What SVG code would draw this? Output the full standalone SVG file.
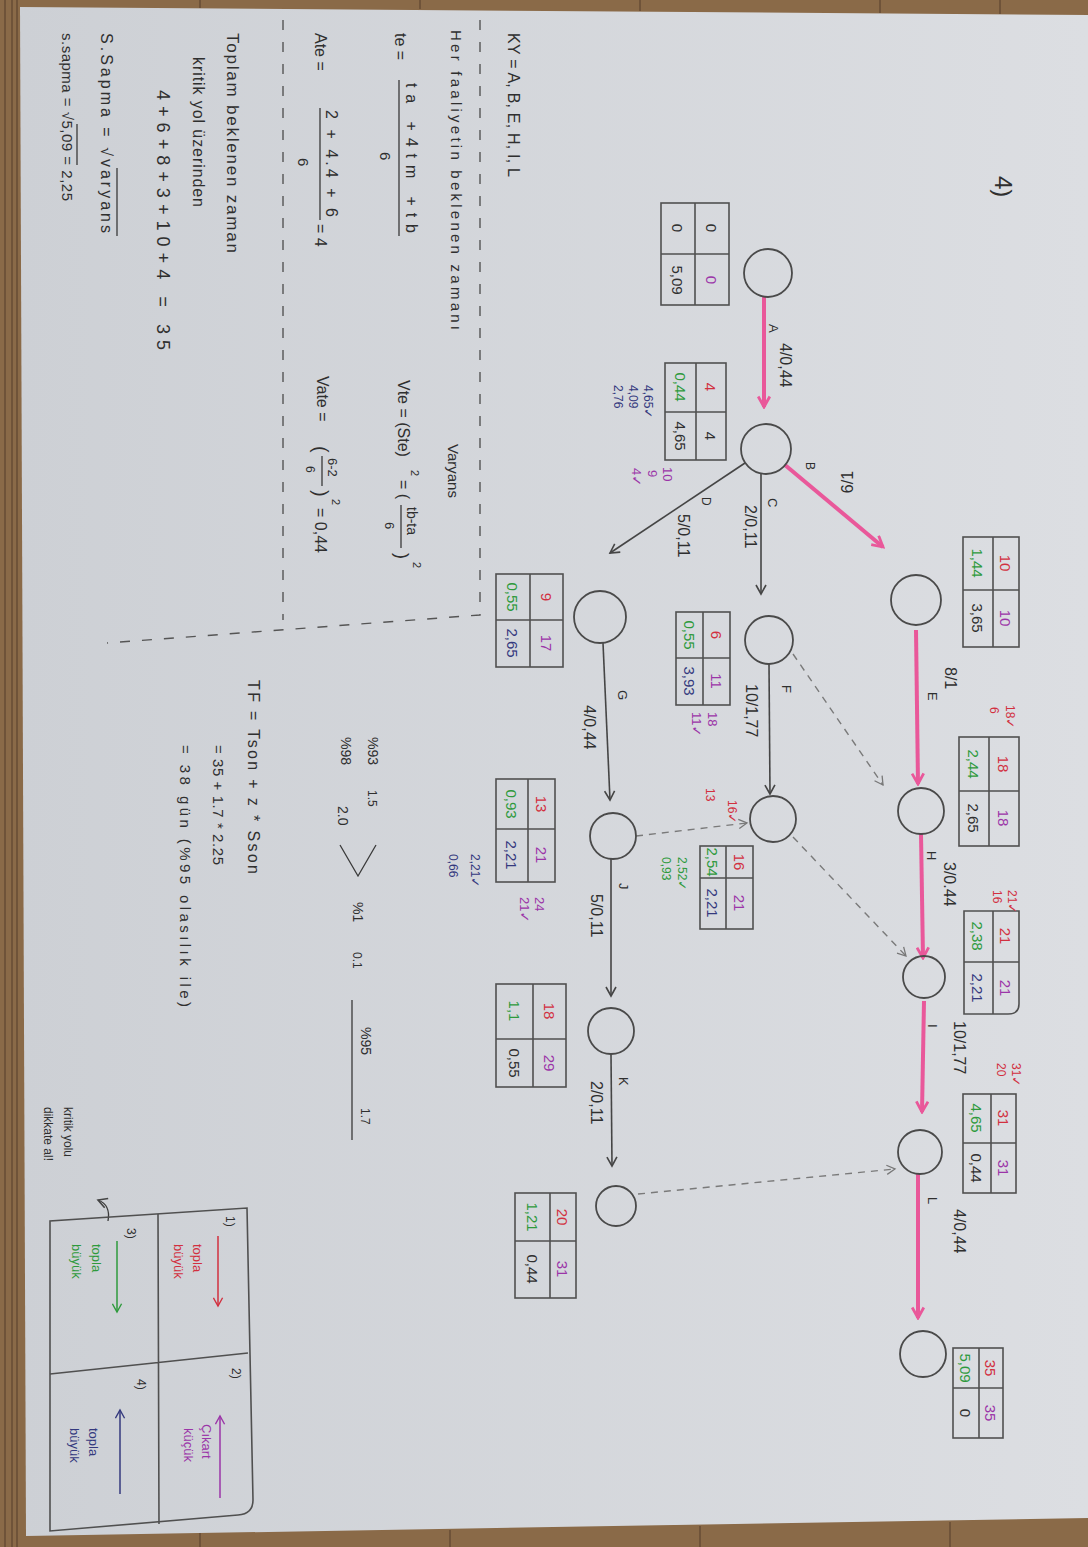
<svg xmlns="http://www.w3.org/2000/svg" width="1088" height="1547" viewBox="0 0 1088 1547">
<defs>
<linearGradient id="pg" x1="0" y1="0" x2="1" y2="0">
<stop offset="0" stop-color="#cdd0d5"/><stop offset="1" stop-color="#dcdee2"/>
</linearGradient>
<marker id="mp" viewBox="0 0 12 12" markerWidth="14" markerHeight="14" refX="10" refY="6" orient="auto" markerUnits="userSpaceOnUse"><path d="M1,1 L10,6 L1,11" fill="none" stroke="#e9589a" stroke-width="2.4"/></marker>
<marker id="mk" viewBox="0 0 12 12" markerWidth="12" markerHeight="12" refX="10" refY="6" orient="auto" markerUnits="userSpaceOnUse"><path d="M1,1 L10,6 L1,11" fill="none" stroke="#454545" stroke-width="1.6"/></marker>
<marker id="md" viewBox="0 0 12 12" markerWidth="11" markerHeight="11" refX="10" refY="6" orient="auto" markerUnits="userSpaceOnUse"><path d="M1,1 L10,6 L1,11" fill="none" stroke="#777" stroke-width="1.4"/></marker>
<marker id="mr" viewBox="0 0 12 12" markerWidth="11" markerHeight="11" refX="10" refY="6" orient="auto" markerUnits="userSpaceOnUse"><path d="M1,1 L10,6 L1,11" fill="none" stroke="#d2303f" stroke-width="1.5"/></marker>
<marker id="mu" viewBox="0 0 12 12" markerWidth="11" markerHeight="11" refX="10" refY="6" orient="auto" markerUnits="userSpaceOnUse"><path d="M1,1 L10,6 L1,11" fill="none" stroke="#9b35a8" stroke-width="1.5"/></marker>
<marker id="mg" viewBox="0 0 12 12" markerWidth="11" markerHeight="11" refX="10" refY="6" orient="auto" markerUnits="userSpaceOnUse"><path d="M1,1 L10,6 L1,11" fill="none" stroke="#2e9a3c" stroke-width="1.5"/></marker>
<marker id="mb" viewBox="0 0 12 12" markerWidth="11" markerHeight="11" refX="10" refY="6" orient="auto" markerUnits="userSpaceOnUse"><path d="M1,1 L10,6 L1,11" fill="none" stroke="#34397e" stroke-width="1.5"/></marker>
<style>
.t{font-family:"Liberation Sans","DejaVu Sans",sans-serif;fill:#2f2f2f}
.c{text-anchor:middle}
.v{font-size:15px}
.l{font-size:16px}
.s{font-size:12px}
.red{fill:#d2303f}
.pur{fill:#9b35a8}
.grn{fill:#2e9a3c}
.blu{fill:#34397e}
.node{fill:none;stroke:#4a4a4a;stroke-width:1.8}
.box{fill:none;stroke:#505050;stroke-width:1.6}
.crit{stroke:#e9589a;stroke-width:4;fill:none;marker-end:url(#mp)}
.norm{stroke:#454545;stroke-width:1.6;fill:none;marker-end:url(#mk)}
.dum{stroke:#7a7a7a;stroke-width:1.4;stroke-dasharray:7 6;fill:none;marker-end:url(#md)}
.sep{stroke:#555;stroke-width:1.4;stroke-dasharray:10 12;fill:none}
.ln{stroke:#3a3a3a;stroke-width:1.3;fill:none}
</style>
</defs>

<rect width="1088" height="1547" fill="#8a6a48"/>
<g stroke="#5e4430" stroke-width="2" opacity="0.6">
<path d="M5,0V1547M12,0V1547M17,0V1547"/>
<path d="M200,0V8M420,0V9M640,0V11M880,0V13M1000,0V14"/>
<path d="M200,1532V1547M450,1530V1547M700,1526V1547M950,1522V1547"/>
</g>
<polygon points="20,7 1088,15 1088,1518 26,1536" fill="url(#pg)"/>

<g id="page" transform="translate(1088,0) rotate(90)">

<g id="connectors">
<path id="eA" class="crit" d="M297,324 L407,324"/>
<path id="eB" class="crit" d="M465,303 L547,205"/>
<path id="eC" class="norm" d="M473,327 L594,327"/>
<path id="eD" class="norm" d="M463,343 L553,478"/>
<path id="eE" class="crit" d="M630,172 L784,170"/>
<path id="eF" class="norm" d="M664,319 L794,318"/>
<path id="eG" class="norm" d="M643,485 L800,478"/>
<path id="eH" class="crit" d="M834,167 L958,165"/>
<path id="eI" class="crit" d="M1001,164 L1112,166"/>
<path id="eJ" class="norm" d="M859,477 L996,477"/>
<path id="eK" class="norm" d="M1054,477 L1166,476"/>
<path id="eL" class="crit" d="M1174,170 L1318,170"/>
<path id="d1" class="dum" d="M654,295 L785,205"/>
<path id="d2" class="dum" d="M837,295 L956,182"/>
<path id="d3" class="dum" d="M836,452 L823,341"/>
<path id="d4" class="dum" d="M1194,450 L1169,193"/>
</g>

<g id="edge-labels" class="t l">
<text x="324" y="319" style="font-size:13px">A</text>
<text x="343" y="308">4/0,44</text>
<text x="462" y="282" class="s">B</text>
<text x="482" y="240" class="c" transform="rotate(180 482 240)" dy="5">6/1</text>
<text x="498" y="320" style="font-size:13px">C</text>
<text x="505" y="343">2/0,11</text>
<text x="497" y="386" class="s">D</text>
<text x="514" y="410">5/0,11</text>
<text x="692" y="160" style="font-size:13px">E</text>
<text x="667" y="143">8/1</text>
<text x="685" y="306" style="font-size:13px">F</text>
<text x="684" y="342">10/1,77</text>
<text x="690" y="470" style="font-size:13px">G</text>
<text x="705" y="504">4/0,44</text>
<text x="851" y="161" style="font-size:13px">H</text>
<text x="862" y="144">3/0.44</text>
<text x="883" y="469" style="font-size:13px">J</text>
<text x="894" y="497">5/0,11</text>
<text x="1024" y="160" style="font-size:13px">I</text>
<text x="1021" y="134">10/1,77</text>
<text x="1077" y="469" style="font-size:13px">K</text>
<text x="1081" y="497">2/0,11</text>
<text x="1197" y="160" style="font-size:13px">L</text>
<text x="1209" y="134">4/0,44</text>
</g>

<g id="n1">
<circle cx="273" cy="320" r="24" class="node"/>
<rect x="203" y="359" width="102" height="68" class="box"/><path d="M254,359V427M203,393H305" class="box"/>
<g class="t v c"><text x="228" y="382">0</text><text x="280" y="382" class="pur">0</text><text x="228" y="416">0</text><text x="280" y="416">5,09</text></g>
</g>
<g id="n2">
<circle cx="449" cy="322" r="25" class="node"/>
<rect x="363" y="362" width="97" height="61" class="box"/><path d="M412,362V423M363,392H460" class="box"/>
<g class="t v c"><text x="387" y="383" class="red">4</text><text x="436" y="383">4</text><text x="387" y="413" class="grn">0,44</text><text x="436" y="413">4,65</text></g>
<g class="t s blu"><text x="385" y="444">4,65✓</text><text x="385" y="459">4,09</text><text x="385" y="474">2,76</text></g>
<g class="t pur" style="font-size:13px"><text x="467" y="425">10</text><text x="470" y="440">9</text><text x="468" y="456">4✓</text></g>
</g>
<g id="n3">
<circle cx="600" cy="172" r="25" class="node"/>
<rect x="537" y="69" width="110" height="56" class="box"/><path d="M590,69V125M537,95H647" class="box"/>
<g class="t v c"><text x="563" y="88" class="red">10</text><text x="618" y="88" class="pur">10</text><text x="563" y="116" class="grn">1,44</text><text x="618" y="116">3,65</text></g>
</g>
<g id="n4">
<circle cx="640" cy="319" r="24" class="node"/>
<rect x="612" y="358" width="93" height="54" class="box"/><path d="M658,358V412M612,385H705" class="box"/>
<g class="t v c"><text x="635" y="377" class="red">6</text><text x="681" y="377" class="pur">11</text><text x="635" y="404" class="grn">0,55</text><text x="681" y="404" class="blu">3,93</text></g>
<g class="t pur" style="font-size:13px"><text x="712" y="380">18</text><text x="712" y="396">11✓</text></g>
</g>
<g id="n5">
<circle cx="811" cy="167" r="23" class="node"/>
<rect x="737" y="69" width="109" height="60" class="box"/><path d="M791,69V129M737,99H846" class="box"/>
<g class="t v c"><text x="764" y="90" class="red">18</text><text x="818" y="90" class="pur">18</text><text x="764" y="120" class="grn">2,44</text><text x="818" y="120">2,65</text></g>
<g class="t s red"><text x="705" y="82">18✓</text><text x="707" y="98">6</text></g>
</g>
<g id="n6">
<circle cx="819" cy="315" r="23" class="node"/>
<rect x="846" y="335" width="83" height="53" class="box"/><path d="M878,335V388M846,362H929" class="box"/>
<g class="t v c"><text x="862" y="354" class="red">16</text><text x="903" y="354" class="pur">21</text><text x="862" y="381" class="grn">2,54</text><text x="903" y="381" class="blu">2,21</text></g>
<g class="t s red"><text x="800" y="360">16✓</text><text x="788" y="382">13</text></g>
<g class="t s grn"><text x="857" y="410">2,52✓</text><text x="857" y="426">0,93</text></g>
</g>
<g id="n7">
<circle cx="977" cy="164" r="21" class="node"/>
<path class="box" d="M911,69 H1004 Q1014,69 1014,80 V124 H911 Z M962,69V124M911,95H1014"/>
<g class="t v c"><text x="936" y="88" class="red">21</text><text x="988" y="88" class="pur">21</text><text x="936" y="116" class="grn">2,38</text><text x="988" y="116" class="blu">2,21</text></g>
<g class="t s red"><text x="890" y="80">21✓</text><text x="890" y="95">16</text></g>
</g>
<g id="n8">
<circle cx="1152" cy="168" r="22" class="node"/>
<rect x="1094" y="72" width="99" height="53" class="box"/><path d="M1143,72V125M1094,97H1193" class="box"/>
<g class="t v c"><text x="1118" y="90" class="red">31</text><text x="1168" y="90" class="pur">31</text><text x="1118" y="117" class="grn">4,65</text><text x="1168" y="117">0,44</text></g>
<g class="t s red"><text x="1063" y="76">31✓</text><text x="1063" y="91">20</text></g>
</g>
<g id="n9">
<circle cx="1354" cy="165" r="23" class="node"/>
<rect x="1348" y="85" width="90" height="50" class="box"/><path d="M1388,85V135M1348,109H1438" class="box"/>
<g class="t v c"><text x="1368" y="103" class="red">35</text><text x="1413" y="103" class="pur">35</text><text x="1368" y="128" class="grn">5,09</text><text x="1413" y="128">0</text></g>
</g>
<g id="n10">
<circle cx="617" cy="488" r="26" class="node"/>
<rect x="574" y="525" width="93" height="67" class="box"/><path d="M620,525V592M574,558H667" class="box"/>
<g class="t v c"><text x="597" y="547" class="red">9</text><text x="643" y="547" class="pur">17</text><text x="597" y="581" class="grn">0,55</text><text x="643" y="581" class="blu">2,65</text></g>
</g>
<g id="n11">
<circle cx="836" cy="475" r="23" class="node"/>
<rect x="779" y="533" width="103" height="59" class="box"/><path d="M829,533V592M779,560H882" class="box"/>
<g class="t v c"><text x="804" y="552" class="red">13</text><text x="855" y="552" class="pur">21</text><text x="804" y="582" class="grn">0,93</text><text x="855" y="582" class="blu">2,21</text></g>
<g class="t pur" style="font-size:13px"><text x="897" y="553">24</text><text x="897" y="568">21✓</text></g>
<g class="t s blu"><text x="854" y="617">2,21✓</text><text x="854" y="639">0,66</text></g>
</g>
<g id="n12">
<circle cx="1031" cy="477" r="23" class="node"/>
<rect x="984" y="522" width="103" height="70" class="box"/><path d="M1039,522V592M984,555H1087" class="box"/>
<g class="t v c"><text x="1011" y="544" class="red">18</text><text x="1063" y="544" class="pur">29</text><text x="1011" y="579" class="grn">1,1</text><text x="1063" y="579">0,55</text></g>
</g>
<g id="n13">
<circle cx="1206" cy="472" r="20" class="node"/>
<rect x="1193" y="512" width="105" height="61" class="box"/><path d="M1241,512V573M1193,538H1298" class="box"/>
<g class="t v c"><text x="1217" y="531" class="red">20</text><text x="1269" y="531" class="pur">31</text><text x="1217" y="561" class="grn">1,21</text><text x="1269" y="561">0,44</text></g>
</g>

<g id="notes" class="t">
<text x="176" y="93" style="font-size:24px">4)</text>
<text x="33" y="580" style="font-size:16px" textLength="144">KY = A, B, E, H, I, L</text>
<path class="sep" d="M20,608 L615,608 L643,981"/>
<path class="sep" d="M20,805 L620,805"/>
<text x="30" y="637" style="font-size:15px" textLength="300">Her faaliyetin beklenen zamanı</text>
<text x="444" y="640" style="font-size:15px">Varyans</text>

<text x="33" y="693" style="font-size:16px">te =</text>
<text x="83" y="682" style="font-size:16px" textLength="150">ta +4tm +tb</text>
<path class="ln" d="M80,689H236"/>
<text x="152" y="708" style="font-size:15px">6</text>

<text x="380" y="690" style="font-size:16px">Vte = (Ste)</text>
<text x="470" y="677" style="font-size:11px">2</text>
<text x="480" y="690" style="font-size:16px">= (</text>
<text x="507" y="681" style="font-size:14px">tb-ta</text>
<path class="ln" d="M505,687H548"/>
<text x="522" y="703" style="font-size:13px">6</text>
<text x="553" y="692" style="font-size:18px">)</text>
<text x="562" y="675" style="font-size:11px">2</text>

<text x="33" y="773" style="font-size:16px">Ate =</text>
<text x="110" y="762" style="font-size:16px" textLength="107">2 + 4.4 + 6</text>
<path class="ln" d="M108,768H220"/>
<text x="158" y="790" style="font-size:15px">6</text>
<text x="224" y="773" style="font-size:16px">= 4</text>

<text x="376" y="771" style="font-size:16px">Vate =</text>
<text x="446" y="774" style="font-size:20px">(</text>
<text x="458" y="760" style="font-size:13px">6-2</text>
<path class="ln" d="M456,766H486"/>
<text x="466" y="782" style="font-size:12px">6</text>
<text x="490" y="774" style="font-size:20px">)</text>
<text x="499" y="756" style="font-size:11px">2</text>
<text x="508" y="773" style="font-size:16px">= 0,44</text>

<text x="737" y="720" style="font-size:14px">%93</text>
<text x="790" y="720" style="font-size:12px">1.5</text>
<text x="737" y="747" style="font-size:14px">%98</text>
<text x="806" y="750" style="font-size:14px">2.0</text>
<path class="ln" d="M845,712 L876,730 L845,748"/>
<text x="902" y="735" style="font-size:14px">%1</text>
<text x="952" y="735" style="font-size:12px">0.1</text>
<text x="1027" y="727" style="font-size:14px">%95</text>
<text x="1108" y="727" style="font-size:12px">1.7</text>
<path class="ln" d="M1000,736H1140"/>

<text x="680" y="840" style="font-size:16px" textLength="194">TF = Tson + z * Sson</text>
<text x="745" y="875" style="font-size:15px" textLength="120">= 35 + 1.7 * 2.25</text>
<text x="745" y="908" style="font-size:15px" textLength="262">= 38 gün (%95 olasılık ile)</text>

<text x="33" y="861" style="font-size:17px" textLength="220">Toplam beklenen zaman</text>
<text x="57" y="895" style="font-size:16px" textLength="150">kritik yol üzerinden</text>
<text x="90" y="931" style="font-size:18px" textLength="260">4+6+8+3+10+4 = 35</text>
<text x="33" y="987" style="font-size:16px" textLength="200">S.Sapma = √varyans</text>
<path class="ln" d="M168,971H236"/>
<text x="33" y="1026" style="font-size:15px" textLength="168">s.sapma = √5,09 = 2,25</text>
<path class="ln" d="M124,1011H165"/>

<text x="1107" y="1024" style="font-size:12px">kritik yolu</text>
<text x="1107" y="1044" style="font-size:12px">dikkate al!</text>
<path class="ln" d="M1221,980 C1210,978 1203,982 1200,990" marker-end="url(#mk)"/>
</g>

<g id="rule-table" class="t">
<path class="box" d="M1208,841 L1500,835 Q1514,835 1515,850 L1531,1038 L1221,1038 Z"/>
<path class="box" d="M1214,930 L1524,929 M1353,840 L1374,1038"/>
<text x="1216" y="862" style="font-size:12px">1)</text>
<path d="M1236,870H1306" stroke="#d2303f" stroke-width="1.5" fill="none" marker-end="url(#mr)"/>
<text x="1244" y="895" class="red" style="font-size:13px">topla</text>
<text x="1244" y="914" class="red" style="font-size:13px">büyük</text>
<text x="1368" y="856" style="font-size:12px">2)</text>
<path d="M1498,868H1416" stroke="#9b35a8" stroke-width="1.5" fill="none" marker-end="url(#mu)"/>
<text x="1424" y="886" class="pur" style="font-size:13px">Çıkart</text>
<text x="1428" y="904" class="pur" style="font-size:13px">küçük</text>
<text x="1228" y="961" style="font-size:12px">3)</text>
<path d="M1241,971H1312" stroke="#2e9a3c" stroke-width="1.5" fill="none" marker-end="url(#mg)"/>
<text x="1244" y="996" class="grn" style="font-size:13px">topla</text>
<text x="1244" y="1016" class="grn" style="font-size:13px">büyük</text>
<text x="1379" y="951" style="font-size:12px">4)</text>
<path d="M1494,968H1410" stroke="#34397e" stroke-width="1.5" fill="none" marker-end="url(#mb)"/>
<text x="1428" y="999" class="blu" style="font-size:13px">topla</text>
<text x="1428" y="1018" class="blu" style="font-size:13px">büyük</text>
</g>

</g>
</svg>
